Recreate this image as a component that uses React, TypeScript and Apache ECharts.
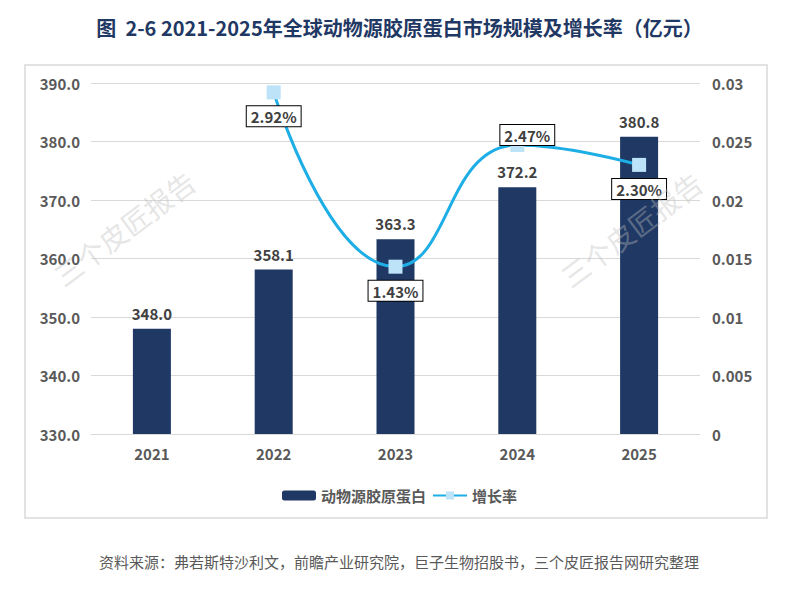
import React, { useRef, useEffect } from "react";
import * as echarts from "echarts";

const years = ["2021", "2022", "2023", "2024", "2025"];
const marketSize = [348.0, 358.1, 363.3, 372.2, 380.8];
const growthRate = [null, 0.0292, 0.0143, 0.0247, 0.023];
const rateLabelPos = ["bottom", "bottom", "bottom", "top", "bottom"];

const FONT = '"Noto Sans CJK SC", "Noto Sans", sans-serif';
const NAVY = "#1f3864";
const TEXT = "#595959";

function buildOption() {
  return {
    animation: false,
    backgroundColor: "#ffffff",
    textStyle: { fontFamily: FONT },
    title: {
      text: "图  2-6 2021-2025年全球动物源胶原蛋白市场规模及增长率（亿元）",
      left: "center",
      top: 12,
      textStyle: { fontFamily: FONT, fontSize: 20, fontWeight: "bold", color: NAVY },
    },
    graphic: [
      {
        type: "rect",
        z: -10,
        shape: { x: 25, y: 65, width: 742, height: 453 },
        style: { fill: "none", stroke: "#d9d9d9", lineWidth: 1.5 },
      },
      {
        type: "text",
        x: 399,
        y: 561,
        style: {
          text: "资料来源：弗若斯特沙利文，前瞻产业研究院，巨子生物招股书，三个皮匠报告网研究整理",
          fontFamily: FONT,
          fontSize: 15,
          fill: TEXT,
          align: "center",
          verticalAlign: "middle",
        },
      },
      {
        type: "text",
        x: 124,
        y: 228,
        z: 100,
        rotation: (37 * Math.PI) / 180,
        style: {
          text: "三个皮匠报告",
          fontFamily: FONT,
          fontSize: 28,
          fill: "rgba(190,190,190,0.4)",
          align: "center",
          verticalAlign: "middle",
        },
      },
      {
        type: "text",
        x: 631,
        y: 229,
        z: 100,
        rotation: (37 * Math.PI) / 180,
        style: {
          text: "三个皮匠报告",
          fontFamily: FONT,
          fontSize: 28,
          fill: "rgba(190,190,190,0.4)",
          align: "center",
          verticalAlign: "middle",
        },
      },
    ],
    legend: {
      left: "center",
      top: 483,
      itemWidth: 34,
      itemHeight: 10,
      itemGap: 6,
      textStyle: { fontFamily: FONT, fontSize: 15, fontWeight: "bold", color: TEXT },
      data: ["动物源胶原蛋白", "增长率"],
    },
    grid: { left: 91, right: 99, top: 83, bottom: 157 },
    xAxis: {
      type: "category",
      data: years,
      axisTick: { show: false },
      axisLine: { lineStyle: { color: "#d9d9d9" } },
      axisLabel: { color: TEXT, fontSize: 15, fontWeight: "bold", margin: 12 },
    },
    yAxis: [
      {
        type: "value",
        min: 330,
        max: 390,
        interval: 10,
        axisLabel: {
          color: TEXT,
          fontSize: 15,
          fontWeight: "bold",
          margin: 11,
          formatter: (v: number) => v.toFixed(1),
        },
        axisLine: { show: false },
        axisTick: { show: false },
        splitLine: { lineStyle: { color: "#d9d9d9" } },
      },
      {
        type: "value",
        min: 0,
        max: 0.03,
        interval: 0.005,
        axisLabel: {
          color: TEXT,
          fontSize: 15,
          fontWeight: "bold",
          margin: 12,
          formatter: (v: number) => String(+v.toFixed(3)),
        },
        axisLine: { show: false },
        axisTick: { show: false },
        splitLine: { show: false },
      },
    ],
    series: [
      {
        name: "动物源胶原蛋白",
        type: "bar",
        data: marketSize,
        barWidth: 38,
        itemStyle: { color: NAVY },
        label: {
          show: true,
          position: "top",
          distance: 8,
          color: "#404040",
          fontSize: 15,
          fontWeight: "bold",
          formatter: (p: any) => p.value.toFixed(1),
        },
      },
      {
        name: "增长率",
        type: "line",
        yAxisIndex: 1,
        smooth: true,
        symbol: "rect",
        symbolSize: 14,
        lineStyle: { color: "#1eaee6", width: 3 },
        itemStyle: { color: "#bde3f8" },
        data: growthRate.map((v, i) => ({
          value: v,
          label: {
            show: v != null,
            position: rateLabelPos[i],
            distance: 7,
            offset: rateLabelPos[i] === "top" ? [10, 14] : [0, 0],
            formatter: (p: any) => (p.value * 100).toFixed(2) + "%",
            color: "#404040",
            fontSize: 15,
            fontWeight: "bold",
            backgroundColor: "#ffffff",
            borderColor: "#000000",
            borderWidth: 1,
            padding: [3, 4, 2, 4],
          },
        })),
      },
    ],
  };
}

export default function App() {
  const ref = useRef<HTMLDivElement>(null);

  useEffect(() => {
    if (!ref.current) return;
    const chart = echarts.init(ref.current, undefined, { renderer: "svg" });
    // eslint-disable-next-line @typescript-eslint/no-explicit-any
    chart.setOption(buildOption() as any);
    return () => chart.dispose();
  }, []);

  return (
    <div
      ref={ref}
      style={{ position: "fixed", left: 0, top: 0, width: 799, height: 591, background: "#fff" }}
    />
  );
}
